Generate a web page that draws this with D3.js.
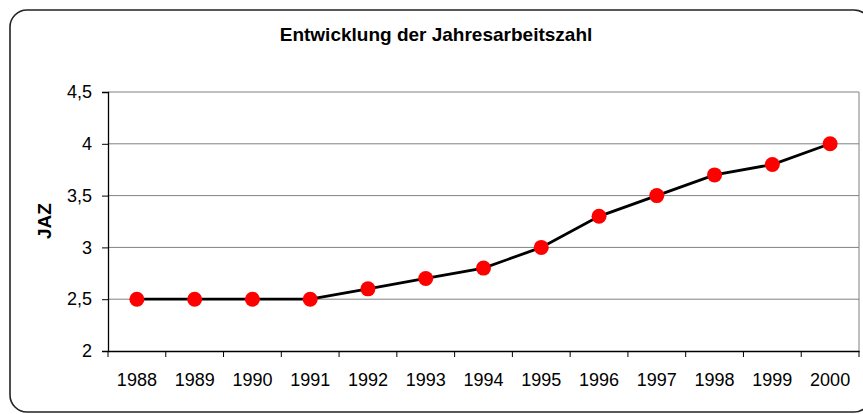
<!DOCTYPE html>
<html><head><meta charset="utf-8">
<script src="https://cdn.jsdelivr.net/npm/d3@7"></script>
<style>body{margin:0;background:#fff}svg{display:block}</style>
</head><body>
<svg id="c" width="863" height="414"></svg>
<script>
const years = ["1988","1989","1990","1991","1992","1993","1994","1995","1996","1997","1998","1999","2000"];
const jaz = [2.5,2.5,2.5,2.5,2.6,2.7,2.8,3.0,3.3,3.5,3.7,3.8,4.0];
const yTicks = [2,2.5,3,3.5,4,4.5];
const titleText = "Entwicklung der Jahresarbeitszahl";
const yLabel = "JAZ";

const svg = d3.select("#c");
const font = "'Liberation Sans', Arial, sans-serif";
const m = {left:108, right:859, top:92, bottom:351};

svg.append("rect").attr("x",10).attr("y",10).attr("width",861).attr("height",402)
  .attr("rx",17).attr("ry",17).attr("fill","#fff").attr("stroke","#222").attr("stroke-width",1.6);

const x = d3.scaleBand().domain(years).range([m.left,m.right]);
const y = d3.scaleLinear().domain([2,4.5]).range([m.bottom,m.top]);

// gridlines
svg.append("g").selectAll("line").data(yTicks.filter(t=>t>2)).join("line")
  .attr("x1",m.left).attr("x2",m.right).attr("y1",d=>y(d)).attr("y2",d=>y(d))
  .attr("stroke","#808080").attr("stroke-width",1);
svg.append("line").attr("x1",m.right).attr("x2",m.right).attr("y1",m.top).attr("y2",m.bottom)
  .attr("stroke","#808080").attr("stroke-width",1);

const fmt = d => String(d).replace(".",",");
const ya = svg.append("g").attr("transform",`translate(${m.left},0)`)
  .call(d3.axisLeft(y).tickValues(yTicks).tickFormat(fmt).tickSize(6).tickPadding(10));
ya.select(".domain").attr("stroke","#000").attr("stroke-width",1.3);
ya.selectAll("text").attr("font-family",font).attr("font-size",18).attr("fill","#000");

const xa = svg.append("g").attr("transform",`translate(0,${m.bottom})`)
  .call(d3.axisBottom(x).tickSize(0).tickPadding(22));
xa.select(".domain").attr("stroke","#000").attr("stroke-width",1.5);
xa.selectAll("text").attr("font-family",font).attr("font-size",18).attr("fill","#000");
// category boundary ticks
svg.append("g").selectAll("line").data(years.concat(["end"])).join("line")
  .attr("x1",(d,i)=>m.left+i*x.step()).attr("x2",(d,i)=>m.left+i*x.step())
  .attr("y1",m.bottom).attr("y2",m.bottom+6).attr("stroke","#000");

const line = d3.line().x((d,i)=>x(years[i])+x.bandwidth()/2).y(d=>y(d));
svg.append("path").datum(jaz).attr("d",line).attr("fill","none").attr("stroke","#000").attr("stroke-width",2.8);
svg.append("g").selectAll("circle").data(jaz).join("circle")
  .attr("cx",(d,i)=>x(years[i])+x.bandwidth()/2).attr("cy",d=>y(d)).attr("r",7.5).attr("fill","#ff0000");

svg.append("text").attr("x",436).attr("y",41).attr("text-anchor","middle")
  .attr("font-family",font).attr("font-size",19).attr("font-weight","bold").text(titleText);
svg.append("text").attr("transform",`translate(51,221) rotate(-90)`)
  .attr("text-anchor","middle").attr("font-family",font).attr("font-size",19).attr("font-weight","bold").text(yLabel);
</script>
</body></html>
